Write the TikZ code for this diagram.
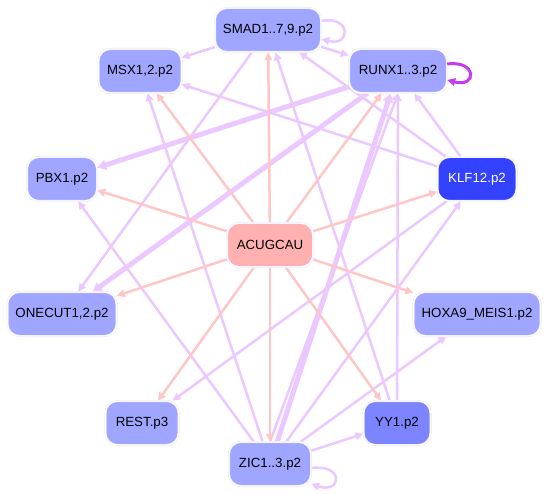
\documentclass[tikz,border=0pt]{standalone}
\usepackage{fontspec}
\setmainfont{Liberation Sans}
\usepackage{tikz}
\usetikzlibrary{positioning, arrows.meta, backgrounds}
\definecolor{cGene}  {HTML}{A0A6FF}
\definecolor{cMir}   {HTML}{FFB0B0}
\definecolor{cKlf}   {HTML}{3342FF}
\definecolor{cYy}    {HTML}{7C84FF}
\definecolor{cRing}  {HTML}{E2E2FF}
\definecolor{cTf}    {HTML}{EBC8FF}
\definecolor{cSeed}  {HTML}{FFC6C6}
\definecolor{cSelf}  {HTML}{C43CF0}

\tikzset{
  gene/.style={rectangle, rounded corners=12pt, fill=cGene, draw=cRing,
    double=white, double distance=1.2pt, minimum height=44pt,
    inner xsep=5pt, font=\fontsize{13.3}{15}\selectfont},
  mir/.style={gene, fill=cMir},
  tf/.style={-{Triangle[length=8pt,width=7.5pt]}, draw=cTf, line width=2.5pt},
  tfthick/.style={tf, line width=5pt, -{Triangle[length=9pt,width=10pt]}},
  seed/.style={tf, draw=cSeed},
}

\begin{document}
\begin{tikzpicture}[x=1pt, y=-1pt]
  \useasboundingbox (0,0) rectangle (548,494);

  % nodes
  \node[gene, minimum width=106pt] (smad)   at (268,30)  {SMAD1..7,9.p2};
  \node[gene, minimum width=98pt]  (runx)   at (398,71)  {RUNX1..3.p2};
  \node[gene, minimum width=83pt]  (msx)    at (140,71)  {MSX1,2.p2};
  \node[gene, minimum width=70pt]  (pbx)    at (62,179)  {PBX1.p2};
  \node[gene, minimum width=79pt, fill=cKlf, text=white] (klf) at (477,179) {KLF12.p2};
  \node[mir,  minimum width=86pt]  (mirna)  at (270,245) {ACUGCAU};
  \node[gene, minimum width=109pt] (onecut) at (62,314)  {ONECUT1,2.p2};
  \node[gene, minimum width=127pt] (hoxa)   at (477,314) {HOXA9\_MEIS1.p2};
  \node[gene, minimum width=73pt]  (rest)   at (142,423) {REST.p3};
  \node[gene, minimum width=67pt, fill=cYy] (yy) at (397,423) {YY1.p2};
  \node[gene, minimum width=82pt]  (zic)    at (270,464) {ZIC1..3.p2};

  \begin{scope}[on background layer]
    % regulator edges
    \draw[tf] ([yshift=9pt]smad.east) .. controls +(30,-6) and +(30,8) .. ([yshift=-9pt]smad.east);
    \draw[tf] ([yshift=-4pt]zic.east) .. controls +(34,-4) and +(30,10) .. ([yshift=-20pt]zic.east);
    \draw[tf] (smad) -- (msx);
    \draw[tf] (smad) -- (runx);
    \draw[tf] (smad) -- (onecut);
    \draw[tf] (klf) -- (msx);
    \draw[tf] (klf) -- (smad);
    \draw[tf] (klf) -- (runx);
    \draw[tf] (klf) -- (rest);
    \draw[tfthick] (runx) -- (pbx);
    \draw[tfthick] (runx) -- (onecut);
    \draw[tfthick] (zic) -- (runx);
    \draw[tf] (zic.north) -- (runx.south);
    \draw[tf] (zic) -- (msx);
    \draw[tf] (zic) -- (pbx);
    \draw[tf] (zic) -- (yy);
    \draw[tf] (zic) -- (hoxa);
    \draw[tf] (zic) -- (klf);
    \draw[tf] (yy) -- (runx);
    \draw[tf] (yy) -- (smad);
    % microRNA edges
    \foreach \t in {smad, msx, runx, pbx, klf, onecut, hoxa, rest, yy, zic}
      \draw[seed] (mirna) -- (\t);
  \end{scope}
  \draw[tf, draw=cSelf, line width=3pt] ([yshift=7pt]runx.east) .. controls +(30,-4) and +(30,8) .. ([yshift=-9pt]runx.east);
\end{tikzpicture}
\end{document}
